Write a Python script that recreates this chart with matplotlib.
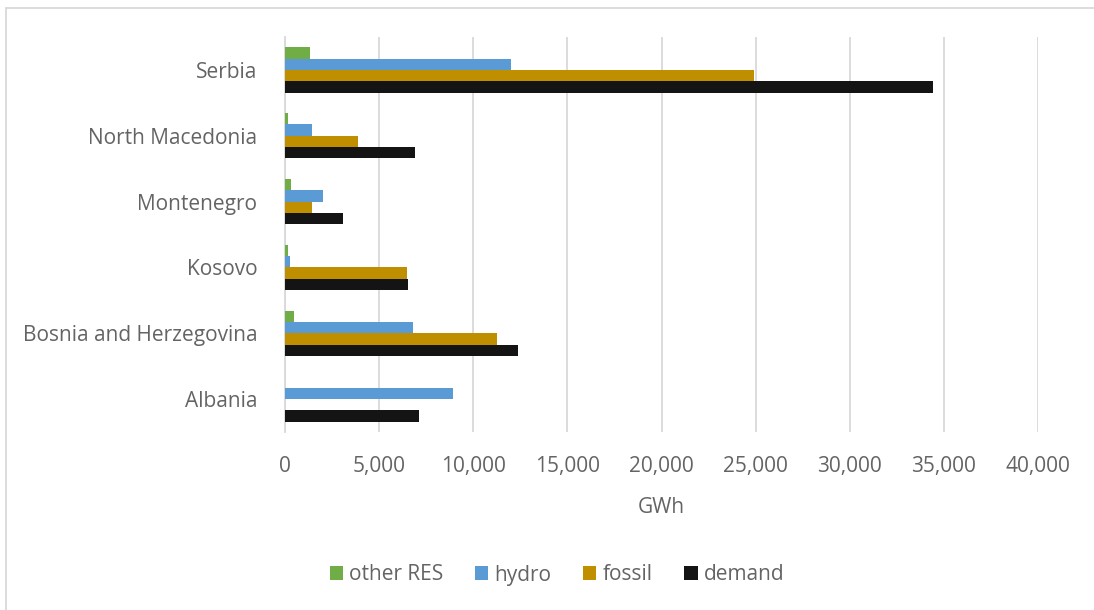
import matplotlib.pyplot as plt
import matplotlib.patches as patches
import numpy as np

plt.rcParams['font.family'] = ['Open Sans', 'DejaVu Sans']

countries = ["Albania", "Bosnia and Herzegovina", "Kosovo", "Montenegro", "North Macedonia", "Serbia"]
other_res = [0, 495, 140, 320, 175, 1340]
hydro = [8920, 6800, 280, 2000, 1450, 11980]
fossil = [0, 11250, 6460, 1450, 3875, 24900]
demand = [7100, 12390, 6510, 3095, 6900, 34400]

series_names = ["other RES", "hydro", "fossil", "demand"]
series_colors = ["#70AD47", "#5B9BD5", "#BF8F00", "#141414"]
series_values = [other_res, hydro, fossil, demand]

text_col = '#646464'
fs = 15

fig = plt.figure(figsize=(10.94, 6.10), dpi=100)
ax = fig.add_axes([285 / 1094, 1 - 432 / 610, (1038 - 285) / 1094, (432 - 37) / 610])

y = np.arange(len(countries))
h = 0.172
for i, (name, col, vals) in enumerate(zip(series_names, series_colors, series_values)):
    offset = (1.5 - i) * h
    ax.barh(y + offset, vals, height=h, color=col, label=name, zorder=3)

ax.set_xlim(0, 40000)
ax.set_ylim(-0.5, len(countries) - 0.5)
ax.set_xticks(np.arange(0, 40001, 5000))
ax.set_xticklabels([f"{v:,}" for v in range(0, 40001, 5000)])
ax.set_yticks(y)
ax.set_yticklabels(countries)
ax.tick_params(axis='x', length=0, pad=17, labelsize=fs, labelcolor=text_col)
ax.tick_params(axis='y', length=0, pad=20, labelsize=fs, labelcolor=text_col)
ax.grid(axis='x', color='#D9D9D9', linewidth=1.3, zorder=0)
for s in ['top', 'right', 'bottom']:
    ax.spines[s].set_visible(False)
ax.spines['left'].set_color('#D9D9D9')
ax.spines['left'].set_linewidth(1.3)
ax.set_xlabel("GWh", fontsize=fs, color=text_col, labelpad=15)

leg = fig.legend(loc='center', bbox_to_anchor=(557 / 1094, 1 - 575 / 610), ncol=4, frameon=False,
                 fontsize=fs, handlelength=0.65, handleheight=0.65, handletextpad=0.3,
                 columnspacing=1.5)
for t in leg.get_texts():
    t.set_color(text_col)

# chart area border (Excel style)
fig.add_artist(patches.Rectangle((6 / 1094, -0.1), 1.2, (1 - 8 / 610) + 0.1, transform=fig.transFigure,
                                 fill=False, edgecolor='#D9D9D9', linewidth=1.3))

fig.savefig("out.png", dpi=100)
